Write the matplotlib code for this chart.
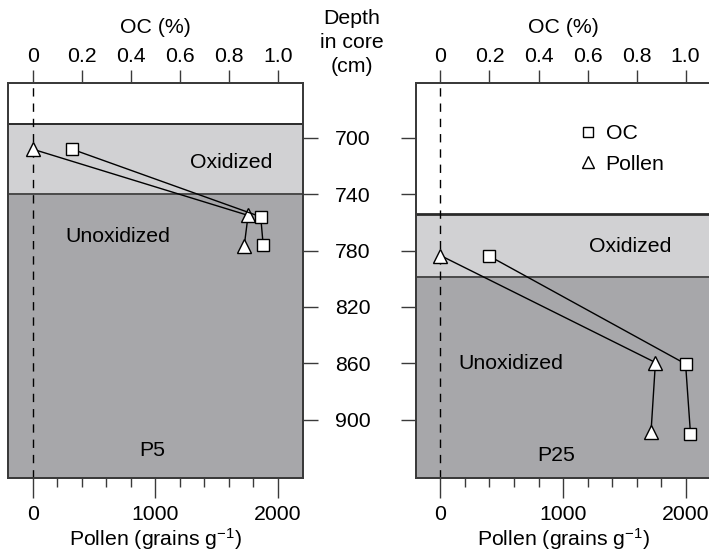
import matplotlib
matplotlib.use("Agg")
import matplotlib.pyplot as plt
from matplotlib.lines import Line2D
from matplotlib.ticker import FixedLocator

plt.rcParams['font.family'] = ['Liberation Sans', 'DejaVu Sans']
plt.rcParams['mathtext.fontset'] = 'custom'
plt.rcParams['mathtext.rm'] = 'Liberation Sans'
plt.rcParams['mathtext.it'] = 'Liberation Sans:italic'
FS = 15.3
plt.rcParams['font.size'] = FS

# ---- data ----
cores = ["P5", "P25"]
# P5
p5_oc_depth = [708, 756, 776]
p5_oc = [0.16, 0.93, 0.94]
p5_pollen_depth = [708, 755, 777]
p5_pollen = [0, 1757, 1725]
# P25
p25_oc_depth = [784, 860.5, 910]
p25_oc = [0.20, 1.00, 1.02]
p25_pollen_depth = [783.5, 859.5, 909]
p25_pollen = [0, 1754, 1718]
# zone boundaries (depth, cm): top of oxidized, top of unoxidized
p5_zones = [690, 740]
p25_zones = [754, 799]

depth_ticks = [700, 740, 780, 820, 860, 900]
oc_ticks = [0, 0.2, 0.4, 0.6, 0.8, 1.0]
oc_ticklabels = ["0", "0.2", "0.4", "0.6", "0.8", "1.0"]
pollen_ticks = [0, 1000, 2000]
pollen_ticklabels = ["0", "1000", "2000"]
pollen_minor = [200, 400, 600, 800, 1200, 1400, 1600, 1800]

# ---- style ----
W, H = 709, 558
DEPTH_LIM = (941.5, 661)
POLLEN_LIM = (-202, 2205)
LIGHT = "#d1d1d3"
DARK = "#a7a7aa"
FRAME = "#3a3a3a"

fig = plt.figure(figsize=(W / 100, H / 100), dpi=100)

panels = [
    dict(rect=[8 / W, 1 - 478 / H, 295 / W, 395 / H], oc=p5_oc, ocd=p5_oc_depth,
         pol=p5_pollen, pold=p5_pollen_depth, zones=p5_zones, name="P5",
         ox=(1622, 717.5), unox=(690, 769.7), lab=(976, 921.7), side="right",
         toplw=1.4),
    dict(rect=[415.7 / W, 1 - 478 / H, 295 / W, 395 / H], oc=p25_oc, ocd=p25_oc_depth,
         pol=p25_pollen, pold=p25_pollen_depth, zones=p25_zones, name="P25",
         ox=(1549, 777), unox=(575, 860), lab=(941, 925.6), side="left",
         toplw=2.0),
]

for i, p in enumerate(panels):
    ax = fig.add_axes(p["rect"])
    ax.set_xlim(*POLLEN_LIM)
    ax.set_ylim(*DEPTH_LIM)
    z0, z1 = p["zones"]
    ax.axhspan(DEPTH_LIM[1], z0, color="white", lw=0, zorder=0)
    ax.axhspan(z0, z1, color=LIGHT, lw=0, zorder=0)
    ax.axhspan(z1, DEPTH_LIM[0], color=DARK, lw=0, zorder=0)
    ax.axhline(z0, color="#2a2a2a", lw=p["toplw"], zorder=1)
    ax.axhline(z1, color="#4a4a4a", lw=1.4, zorder=1)
    ax.axvline(0, color="black", lw=1.0, ls=(0, (6, 5)), zorder=2)

    for s in ax.spines.values():
        s.set_color(FRAME)
        s.set_linewidth(1.3)

    # bottom pollen axis
    ax.xaxis.set_major_locator(FixedLocator(pollen_ticks))
    ax.set_xticklabels(pollen_ticklabels)
    ax.xaxis.set_minor_locator(FixedLocator(pollen_minor))
    ax.tick_params(axis="x", which="major", direction="out", length=14.5, width=1.0,
                   color=FRAME, pad=5)
    ax.tick_params(axis="x", which="minor", direction="out", length=6.5, width=1.0,
                   color=FRAME)
    ax.set_xlabel(r"Pollen (grains g$^{-1}$)", labelpad=1.5)

    # depth axis
    ax.yaxis.set_major_locator(FixedLocator(depth_ticks))
    if p["side"] == "right":
        ax.yaxis.tick_right()
        ax.tick_params(axis="y", which="major", direction="out", length=10.8, width=1.0,
                       color=FRAME, pad=12, left=False, right=True,
                       labelleft=False, labelright=True)
    else:
        ax.tick_params(axis="y", which="major", direction="out", length=10.6, width=1.0,
                       color=FRAME, labelleft=False, labelright=False)

    # pollen series
    ax.plot(p["pol"], p["pold"], color="black", lw=1.0, marker="^", ms=10,
            mfc="white", mec="black", mew=1.0, zorder=4, clip_on=False)

    # OC twin axis
    ax2 = ax.twiny()
    ax2.set_xlim(POLLEN_LIM[0] / 2000, POLLEN_LIM[1] / 2000)
    ax2.set_ylim(*DEPTH_LIM)
    ax2.plot(p["oc"], p["ocd"], color="black", lw=1.0, marker="s", ms=8,
             mfc="white", mec="black", mew=1.0, zorder=4, clip_on=False)
    ax2.xaxis.set_major_locator(FixedLocator(oc_ticks))
    ax2.set_xticklabels(oc_ticklabels)
    ax2.tick_params(axis="x", which="major", direction="out", length=9.6, width=1.0,
                    color=FRAME, pad=3)
    ax2.set_xlabel("OC (%)", labelpad=10)
    for s in ax2.spines.values():
        s.set_color(FRAME)
        s.set_linewidth(1.3)
    ax2.patch.set_visible(False)

    ax.text(*p["ox"], "Oxidized", ha="center", va="center", zorder=5)
    ax.text(*p["unox"], "Unoxidized", ha="center", va="center", zorder=5)
    ax.text(*p["lab"], p["name"], ha="center", va="center", zorder=5)

    if i == 1:
        handles = [
            Line2D([], [], ls="none", marker="s", ms=7, mfc="white", mec="black", mew=1.0),
            Line2D([], [], ls="none", marker="^", ms=9, mfc="white", mec="black", mew=1.0),
        ]
        ax.legend(handles, ["OC", "Pollen"], frameon=False, loc="upper left",
                  bbox_to_anchor=(579 / W, 1 - 124 / H), bbox_transform=fig.transFigure,
                  handlelength=0.8, handletextpad=0.45, labelspacing=0.55,
                  borderpad=0, borderaxespad=0, fontsize=FS)

# depth title
cx = 352 / W
fig.text(cx, 1 - 18 / H, "Depth", ha="center", va="center")
fig.text(cx, 1 - 42 / H, "in core", ha="center", va="center")
fig.text(cx, 1 - 66 / H, "(cm)", ha="center", va="center")

fig.savefig("out.png", dpi=100)
